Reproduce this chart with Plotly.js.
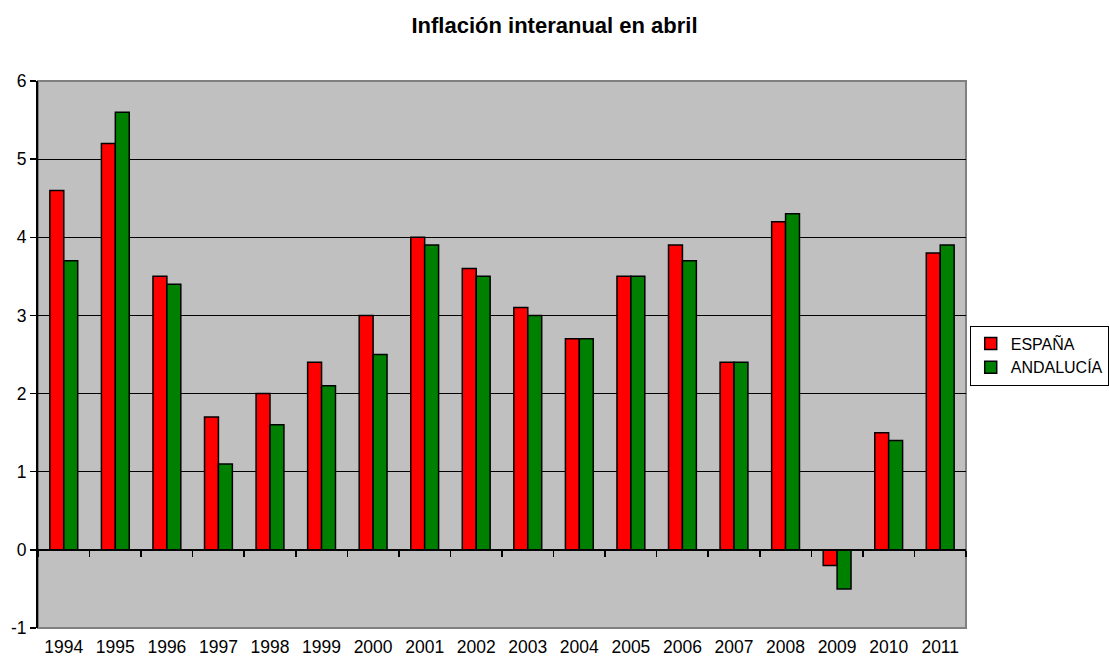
<!DOCTYPE html>
<html>
<head>
<meta charset="utf-8">
<script src="https://cdn.plot.ly/plotly-3.0.1.min.js"></script>
<style>html,body{margin:0;padding:0;background:#fff;}#chart{width:1109px;height:664px;}</style>
</head>
<body>
<div id="chart"></div>
<script>
const years = ['1994','1995','1996','1997','1998','1999','2000','2001','2002','2003','2004','2005','2006','2007','2008','2009','2010','2011'];
const espana = [4.6,5.2,3.5,1.7,2.0,2.4,3.0,4.0,3.6,3.1,2.7,3.5,3.9,2.4,4.2,-0.2,1.5,3.8];
const andalucia = [3.7,5.6,3.4,1.1,1.6,2.1,2.5,3.9,3.5,3.0,2.7,3.5,3.7,2.4,4.3,-0.5,1.4,3.9];
const yTicks = [-1,0,1,2,3,4,5,6];
const yTickLabels = ['-1','0','1','2','3','4','5','6'];

const font = {family: 'Liberation Sans, Arial, sans-serif', size: 17.5, color: '#000'};
const traces = [
  {type:'bar', name:'ESPAÑA', x:years, y:espana, marker:{color:'#FF0000', line:{color:'#000', width:1.5}}},
  {type:'bar', name:'ANDALUCÍA', x:years, y:andalucia, marker:{color:'#008000', line:{color:'#000', width:1.5}}},
  {type:'bar', x:years, y:years.map(()=>null), xaxis:'x2', showlegend:false, hoverinfo:'skip'}
];
const layout = {
  width:1109, height:664,
  margin:{l:38, r:143, t:81, b:36, autoexpand:false},
  paper_bgcolor:'#fff', plot_bgcolor:'#C0C0C0',
  font: font,
  title:{text:'<b>Inflación interanual en abril</b>', x:0.5, xref:'container', xanchor:'center', y:0.962, yanchor:'middle', font:{family:font.family, size:22, color:'#000'}},
  barmode:'group', bargap:0.46, bargroupgap:0,
  showlegend:true,
  legend:{x:1.004, y:0.553, xanchor:'left', yanchor:'top', bgcolor:'#fff', bordercolor:'#000', borderwidth:1, font:{family:font.family, size:16, color:'#000'}, tracegroupgap:0, itemwidth:30},
  xaxis:{type:'category', categoryarray:years, showgrid:false, zeroline:false, showline:false, ticks:'', tickfont:font, ticklabelstandoff:6},
  xaxis2:{type:'category', categoryarray:years, overlaying:'x', anchor:'free', position:1/7, side:'bottom', showline:true, linecolor:'#000', linewidth:2, ticks:'outside', tickson:'boundaries', ticklen:6, tickwidth:1.5, tickcolor:'#000', showticklabels:false, showgrid:false, zeroline:false, matches:'x'},
  yaxis:{range:[-1,6], tickvals:yTicks, ticktext:yTickLabels, showgrid:true, gridcolor:'#000', gridwidth:1, zeroline:false, showline:true, linecolor:'#000', linewidth:2, ticks:'outside', ticklen:6, tickwidth:1.5, tickcolor:'#000', tickfont:font},
  shapes:[
    {type:'rect', xref:'paper', yref:'paper', x0:0, x1:1, y0:0, y1:1, line:{color:'#808080', width:2}, fillcolor:'rgba(0,0,0,0)', layer:'below'}
  ]
};
Plotly.newPlot('chart', traces, layout, {displayModeBar:false, staticPlot:true});
</script>
</body>
</html>
